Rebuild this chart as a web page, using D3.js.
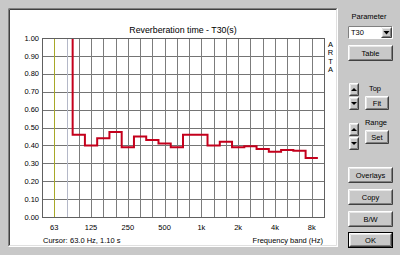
<!DOCTYPE html>
<html>
<head>
<meta charset="utf-8">
<script src="https://cdn.jsdelivr.net/npm/d3@7"></script>
<style>
  body { margin: 0; background: #c8c8c8; }
  svg { display: block; font-family: "Liberation Sans", Arial, sans-serif; }
</style>
</head>
<body>
<div class="svg"></div>
<script>
// third-octave band centres (nominal) and T30 values (s)
var bands = [63, 80, 100, 125, 160, 200, 250, 315, 400, 500, 630, 800, 1000,
             1250, 1600, 2000, 2500, 3150, 4000, 5000, 6300, 8000];
var t30 = [1.10, 1.30, 0.46, 0.40, 0.44, 0.475, 0.39, 0.45, 0.43, 0.41, 0.39, 0.46, 0.46,
           0.40, 0.42, 0.39, 0.395, 0.38, 0.365, 0.375, 0.37, 0.33];
var tickFreqs = [63, 125, 250, 500, 1000, 2000, 4000, 8000];
var tickLabels = ["63", "125", "250", "500", "1k", "2k", "4k", "8k"];
var yTicks = [0, 0.1, 0.2, 0.3, 0.4, 0.5, 0.6, 0.7, 0.8, 0.9, 1.0];

var w = 400, h = 255;
var bg = "#c8c8c8";

// exact third-octave frequency, index 0 = 63 Hz band
var exact = function(i) { return 1000 * Math.pow(2, (i - 12) / 3); };

var margin = { left: 42, top: 38, right: 324, bottom: 217 };

var x = d3.scaleLog().base(2)
  .domain([1000 * Math.pow(2, -13 / 3), 1000 * Math.pow(2, 10 / 3)])
  .range([margin.left, margin.right]);
var y = d3.scaleLinear().domain([0, 1]).range([margin.bottom, margin.top]);

var svg = d3.select(".svg").append("svg").attr("width", w).attr("height", h);

svg.append("rect").attr("width", w).attr("height", h).attr("fill", bg);

// sunken white panel
var panel = { x0: 8, y0: 8, x1: 338, y1: 247 };
svg.append("rect").attr("x", panel.x0).attr("y", panel.y0)
  .attr("width", panel.x1 - panel.x0).attr("height", panel.y1 - panel.y0).attr("fill", "#fff");
function bevel(g, x0, y0, x1, y1, tl, br) {
  g.append("path").attr("d", "M" + x0 + "," + y1 + "V" + y0 + "H" + x1)
    .attr("fill", "none").attr("stroke", tl);
  g.append("path").attr("d", "M" + x0 + "," + y1 + "H" + x1 + "V" + y0)
    .attr("fill", "none").attr("stroke", br);
}
bevel(svg, panel.x0 + 0.5, panel.y0 + 0.5, panel.x1 - 0.5, panel.y1 - 0.5, "#808080", "#ffffff");
bevel(svg, panel.x0 + 1.5, panel.y0 + 1.5, panel.x1 - 1.5, panel.y1 - 1.5, "#404040", "#e0e0e0");

var chart = svg.append("g");

// horizontal grid
chart.selectAll(".hgrid").data(yTicks).enter().append("line")
  .attr("class", "hgrid")
  .attr("x1", margin.left).attr("x2", margin.right)
  .attr("y1", function(d) { return Math.round(y(d)) + 0.5; })
  .attr("y2", function(d) { return Math.round(y(d)) + 0.5; })
  .attr("stroke", "#747474");

// vertical grid at every band
chart.selectAll(".vgrid").data(bands).enter().append("line")
  .attr("class", "vgrid")
  .attr("x1", function(d, i) { return Math.round(x(exact(i))) + 0.5; })
  .attr("x2", function(d, i) { return Math.round(x(exact(i))) + 0.5; })
  .attr("y1", margin.top).attr("y2", margin.bottom)
  .attr("stroke", function(d) { return d === 80 ? "#b4b8c8" : "#7c7c7c"; });

// frame
chart.append("rect")
  .attr("x", margin.left + 0.5).attr("y", margin.top + 0.5)
  .attr("width", margin.right - margin.left).attr("height", margin.bottom - margin.top)
  .attr("fill", "none").attr("stroke", "#606060");

// cursor line at 63 Hz
chart.append("line")
  .attr("x1", Math.round(x(exact(0))) + 0.5).attr("x2", Math.round(x(exact(0))) + 0.5)
  .attr("y1", margin.top + 1).attr("y2", margin.bottom)
  .attr("stroke", "#a8a828");

// step curve
svg.append("clipPath").attr("id", "clip").append("rect")
  .attr("x", margin.left).attr("y", margin.top + 1)
  .attr("width", margin.right - margin.left).attr("height", margin.bottom - margin.top);

var pts = [];
bands.forEach(function(b, i) {
  var fc = exact(i);
  pts.push([x(fc / Math.pow(2, 1 / 6)), y(t30[i])]);
  pts.push([x(fc * Math.pow(2, 1 / 6)), y(t30[i])]);
});
chart.append("path")
  .attr("clip-path", "url(#clip)")
  .attr("d", d3.line()(pts))
  .attr("fill", "none").attr("stroke", "#c4001c").attr("stroke-width", 2);

// axis labels
chart.selectAll(".ylab").data(yTicks).enter().append("text")
  .attr("x", 39).attr("y", function(d) { return y(d); })
  .attr("dy", "0.35em").attr("text-anchor", "end")
  .attr("font-size", 7.5).attr("fill", "#000")
  .text(function(d) { return d.toFixed(2); });

chart.selectAll(".xlab").data(tickFreqs).enter().append("text")
  .attr("x", function(d) { return x(exact(bands.indexOf(d))); })
  .attr("y", 229.5).attr("text-anchor", "middle")
  .attr("font-size", 7.5).attr("fill", "#000")
  .text(function(d, i) { return tickLabels[i]; });

svg.append("text").attr("x", 183).attr("y", 33).attr("text-anchor", "middle")
  .attr("font-size", 8.8).text("Reverberation time - T30(s)");

["A", "R", "T", "A"].forEach(function(c, i) {
  svg.append("text").attr("x", 330.5).attr("y", 47 + i * 8.3).attr("text-anchor", "middle")
    .attr("font-size", 7.5).text(c);
});

svg.append("text").attr("x", 43).attr("y", 243).attr("font-size", 7.5).text("Cursor:");
svg.append("text").attr("x", 70).attr("y", 243).attr("font-size", 7.5).text("63.0 Hz, 1.10 s");
svg.append("text").attr("x", 323).attr("y", 243).attr("text-anchor", "end")
  .attr("font-size", 7.5).text("Frequency band (Hz)");

// side controls
var ui = svg.append("g").attr("font-size", 7.5);
function button(x0, y0, bw, bh, label, isDefault) {
  var g = ui.append("g");
  g.append("rect").attr("x", x0).attr("y", y0).attr("width", bw).attr("height", bh).attr("fill", bg);
  if (isDefault) {
    g.append("rect").attr("x", x0 + 0.5).attr("y", y0 + 0.5).attr("width", bw - 1).attr("height", bh - 1)
      .attr("fill", "none").attr("stroke", "#000");
    x0 += 1; y0 += 1; bw -= 2; bh -= 2;
  }
  bevel(g, x0 + 0.5, y0 + 0.5, x0 + bw - 0.5, y0 + bh - 0.5, "#ffffff", "#404040");
  bevel(g, x0 + 1.5, y0 + 1.5, x0 + bw - 1.5, y0 + bh - 1.5, "#e8e8e8", "#808080");
  if (label) {
    g.append("text").attr("x", x0 + bw / 2).attr("y", y0 + bh / 2).attr("dy", "0.35em")
      .attr("text-anchor", "middle").text(label);
  }
  return g;
}
function arrowButton(x0, y0, up) {
  var g = button(x0, y0, 10, 13, null);
  var cx = x0 + 5, cy = y0 + 6.5;
  var d = up ? "M" + (cx - 3) + "," + (cy + 1.5) + "L" + (cx + 3) + "," + (cy + 1.5) + "L" + cx + "," + (cy - 1.5) + "Z"
             : "M" + (cx - 3) + "," + (cy - 1.5) + "L" + (cx + 3) + "," + (cy - 1.5) + "L" + cx + "," + (cy + 1.5) + "Z";
  g.append("path").attr("d", d).attr("fill", "#000");
}

ui.append("text").attr("x", 369).attr("y", 19).attr("text-anchor", "middle").text("Parameter");
// select box
ui.append("rect").attr("x", 348).attr("y", 26).attr("width", 45).attr("height", 12).attr("fill", "#fff");
bevel(ui, 348.5, 26.5, 392.5, 38.5, "#808080", "#ffffff");
ui.append("text").attr("x", 351).attr("y", 32.5).attr("dy", "0.35em").text("T30");
var dd = button(381, 27, 11, 11, null);
dd.append("path").attr("d", "M383.5,31H389.5L386.5,34.5Z").attr("fill", "#000");

button(348, 45, 45, 16, "Table");

ui.append("text").attr("x", 375).attr("y", 91).attr("text-anchor", "middle").text("Top");
arrowButton(349, 83, true);
arrowButton(349, 97, false);
button(365, 96, 24, 14, "Fit");

ui.append("text").attr("x", 376).attr("y", 125).attr("text-anchor", "middle").text("Range");
arrowButton(349, 123, true);
arrowButton(349, 137, false);
button(365, 130, 24, 14, "Set");

button(348, 167, 45, 16, "Overlays");
button(348, 189, 45, 16, "Copy");
button(348, 211, 45, 16, "B/W");
button(348, 232, 45, 16, "OK", true);
</script>
</body>
</html>
